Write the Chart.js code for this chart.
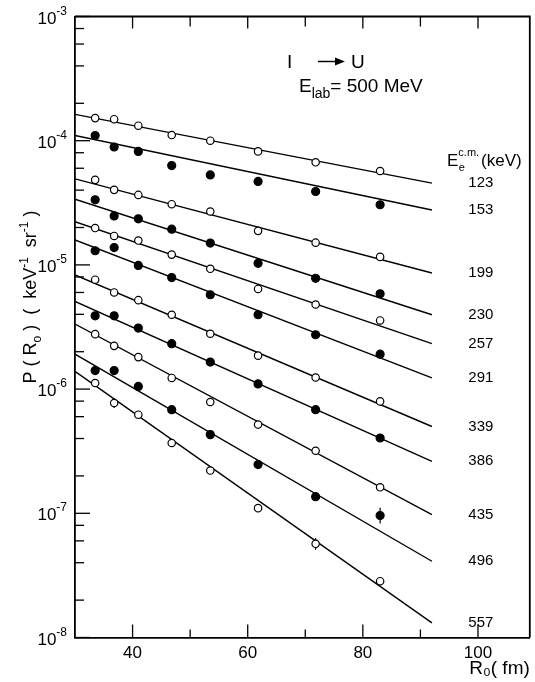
<!DOCTYPE html>
<html><head><meta charset="utf-8">
<script src="https://cdn.jsdelivr.net/npm/chart.js@4.4.1/dist/chart.umd.min.js"></script>
<style>html,body{margin:0;padding:0;background:#fff;}#wrap{width:535px;height:682px;position:relative;}</style>
</head><body><div id="wrap"><canvas id="c" width="535" height="682"></canvas></div>
<script>
// ---- data ----
const R0 = [33.5, 36.8, 41.0, 46.8, 53.5, 61.8, 71.8, 83.0];
const energies = [123, 153, 199, 230, 257, 291, 339, 386, 435, 496, 557];
const fitRange = [30, 92];

const P123 = [1.52e-4, 1.49e-4, 1.32e-4, 1.11e-4, 1.00e-4, 8.2e-5, 6.7e-5, 5.7e-5];
const P153 = [1.10e-4, 8.9e-5, 8.2e-5, 6.3e-5, 5.3e-5, 4.7e-5, 3.9e-5, 3.05e-5];
const P199 = [4.84e-5, 4.02e-5, 3.66e-5, 3.08e-5, 2.69e-5, 1.88e-5, 1.51e-5, 1.16e-5];
const P230 = [3.34e-5, 2.48e-5, 2.35e-5, 1.94e-5, 1.50e-5, 1.03e-5, 7.8e-6, 5.85e-6];
const P257 = [1.98e-5, 1.71e-5, 1.57e-5, 1.21e-5, 9.3e-6, 6.4e-6, 4.8e-6, 3.57e-6];
const P291 = [1.30e-5, 1.38e-5, 9.9e-6, 7.9e-6, 5.75e-6, 3.97e-6, 2.74e-6, 1.91e-6];
const P339 = [7.6e-6, 6.0e-6, 5.2e-6, 3.97e-6, 2.79e-6, 1.86e-6, 1.24e-6, 7.96e-7];
const P386 = [3.89e-6, 3.89e-6, 3.10e-6, 2.32e-6, 1.65e-6, 1.10e-6, 6.83e-7, 4.04e-7];
const P435 = [2.77e-6, 2.23e-6, 1.81e-6, 1.23e-6, 7.87e-7, 5.18e-7, 3.19e-7, 1.62e-7];
const P496 = [1.41e-6, 1.41e-6, 1.05e-6, 6.83e-7, 4.30e-7, 2.47e-7, 1.36e-7, 9.6e-8];
const P557 = [1.12e-6, 7.73e-7, 6.22e-7, 3.68e-7, 2.21e-7, 1.10e-7, 5.68e-8, 2.84e-8];

const F123 = [1.63e-4, 4.55e-5];
const F153 = [1.10e-4, 2.77e-5];
const F199 = [4.93e-5, 8.6e-6];
const F230 = [3.38e-5, 3.97e-6];
const F257 = [2.23e-5, 2.32e-6];
const F291 = [1.59e-5, 1.23e-6];
const F339 = [8.3e-6, 5.0e-7];
const F386 = [5.08e-6, 2.62e-7];
const F435 = [3.34e-6, 9.77e-8];
const F496 = [1.91e-6, 4.11e-8];
const F557 = [1.39e-6, 1.31e-8];

// [series index, point index, low, high]
const errorBars = [[9, 0, 1.31e-6, 1.52e-6], [10, 1, 7.05e-7, 8.48e-7], [10, 6, 5.08e-8, 6.34e-8], [9, 7, 8.26e-8, 1.11e-7]];

const xTicks = [40, 60, 80, 100];
const xTickLabels = ['40', '60', '80', '100'];
const xMinor = [50, 70, 90];
const yTickValues = [1e-8, 1e-7, 1e-6, 1e-5, 1e-4, 1e-3];
const yTickExponents = ['-8', '-7', '-6', '-5', '-4', '-3'];
const yMinorMult = [2, 4, 6, 8];

const seriesValues = [P123, P153, P199, P230, P257, P291, P339, P386, P435, P496, P557];
const fitValues = [F123, F153, F199, F230, F257, F291, F339, F386, F435, F496, F557];

// ---- chart ----
const FONT = "'Liberation Sans', Arial, sans-serif";
const datasets = [];
energies.forEach((e, k) => {
  const filled = k % 2 === 1;
  datasets.push({
    label: 'fit ' + e + ' keV', data: fitRange.map((x, i) => ({x: x, y: fitValues[k][i]})),
    showLine: true, borderColor: '#000', borderWidth: 1.4, pointRadius: 0, fill: false, order: 2
  });
  datasets.push({
    label: e + ' keV', data: R0.map((x, i) => ({x: x, y: seriesValues[k][i]})),
    showLine: false, pointRadius: filled ? 4 : 3.7, pointBackgroundColor: filled ? '#000' : '#fff',
    pointBorderColor: '#000', pointBorderWidth: 1.2, order: 1
  });
});

function seg(ctx, text, x, y, size) {
  ctx.font = size + 'px ' + FONT;
  ctx.fillText(text, x, y);
  return x + ctx.measureText(text).width;
}
function segW(ctx, text, size) {
  ctx.font = size + 'px ' + FONT;
  return ctx.measureText(text).width;
}

const decor = {
  id: 'decor',
  beforeDatasetsDraw(chart) {
    const {ctx, scales: {x, y}} = chart;
    ctx.save();
    ctx.strokeStyle = '#000'; ctx.lineWidth = 1.2;
    errorBars.forEach(([k, i, lo, hi]) => {
      const px = x.getPixelForValue(R0[i]);
      ctx.beginPath();
      ctx.moveTo(px, y.getPixelForValue(lo));
      ctx.lineTo(px, y.getPixelForValue(hi));
      ctx.stroke();
    });
    ctx.restore();
  },
  afterDraw(chart) {
    const {ctx, chartArea: a, scales: {x, y}} = chart;
    ctx.save();
    ctx.strokeStyle = '#000'; ctx.fillStyle = '#000';
    const line = (x1, y1, x2, y2) => { ctx.beginPath(); ctx.moveTo(x1, y1); ctx.lineTo(x2, y2); ctx.stroke(); };
    ctx.lineWidth = 1.8;
    ctx.beginPath(); ctx.moveTo(a.left, a.top); ctx.lineTo(a.right, a.top); ctx.lineTo(a.right, a.bottom); ctx.stroke();
    ctx.lineWidth = 1.3;
    // y ticks (inward)
    for (let e = -8; e < -3; e++) {
      yMinorMult.forEach(m => { const py = y.getPixelForValue(m * Math.pow(10, e)); line(a.left, py, a.left + 9, py); });
    }
    yTickValues.forEach(v => { const py = y.getPixelForValue(v); line(a.left, py, a.left + 15, py); });
    // x ticks bottom and top
    xTicks.forEach(v => { const px = x.getPixelForValue(v); line(px, a.bottom, px, a.bottom - 13); line(px, a.top, px, a.top + 12); });
    xMinor.forEach(v => { const px = x.getPixelForValue(v); line(px, a.bottom, px, a.bottom - 8); line(px, a.top, px, a.top + 10); });

    // y tick labels: 10 with superscript exponent
    ctx.textBaseline = 'alphabetic'; ctx.textAlign = 'left';
    yTickValues.forEach((v, i) => {
      const py = y.getPixelForValue(v);
      const w = segW(ctx, '10', 17) + segW(ctx, yTickExponents[i], 12);
      let tx = a.left - 8 - w;
      tx = seg(ctx, '10', tx, py + 7, 17);
      seg(ctx, yTickExponents[i], tx, py - 2, 12);
    });

    // energy labels
    ctx.textAlign = 'center'; ctx.textBaseline = 'middle';
    ctx.font = '15px ' + FONT;
    energies.forEach((e, k) => {
      ctx.fillText(String(e), x.getPixelForValue(100.5), y.getPixelForValue(fitValues[k][1]));
    });
    // header
    ctx.textAlign = 'left'; ctx.textBaseline = 'alphabetic';
    let hx = 447;
    hx = seg(ctx, 'E', hx, 166, 17);
    seg(ctx, 'e', hx + 0.5, 171, 11);
    hx = seg(ctx, 'c.m.', hx, 156, 11);
    seg(ctx, '(keV)', hx + 2, 166, 17);
    // reaction
    ctx.font = '19px ' + FONT;
    ctx.fillText('I', 287, 68);
    ctx.lineWidth = 1.5;
    line(318, 61.5, 336, 61.5);
    ctx.beginPath(); ctx.moveTo(345, 61.5); ctx.lineTo(335, 57.5); ctx.lineTo(335, 65.5); ctx.closePath(); ctx.fill();
    ctx.fillText('U', 351, 68);
    let ex = 299;
    ex = seg(ctx, 'E', ex, 92, 19);
    ex = seg(ctx, 'lab', ex, 98, 14);
    seg(ctx, '= 500 MeV', ex, 92, 19);
    // y title (rotated)
    ctx.save();
    ctx.translate(30, 297);
    ctx.rotate(-Math.PI / 2);
    const parts = [['P ( R', 18, 0], ['o', 12, 5], [' )  (  keV', 18, 0], ['-1', 12, -8], ['  sr', 18, 0], ['-1', 12, -8], [' )', 18, 0]];
    let total = 0; parts.forEach(p => total += segW(ctx, p[0], p[1]));
    let tx = -total / 2;
    parts.forEach(p => { tx = seg(ctx, p[0], tx, 6 + p[2], p[1]); });
    ctx.restore();
    ctx.restore();
  }
};

new Chart(document.getElementById('c'), {
  type: 'scatter',
  data: {datasets: datasets},
  options: {
    responsive: false, animation: false, devicePixelRatio: 1,
    layout: {padding: {top: 16.5, right: 4, left: 0, bottom: 0}},
    plugins: {legend: {display: false}, tooltip: {enabled: false}},
    scales: {
      x: {
        type: 'linear', min: 30, max: 109, position: 'bottom',
        grid: {display: false, drawTicks: false},
        border: {display: true, color: '#000', width: 1.8},
        ticks: {color: '#000', font: {family: FONT, size: 17}, padding: 6, autoSkip: false, maxRotation: 0,
          callback: (v) => { const i = xTicks.indexOf(v); return i >= 0 ? xTickLabels[i] : ''; }},
        afterBuildTicks: s => { s.ticks = xTicks.map(v => ({value: v})); },
        afterFit: s => { s.height = 44.5; },
        title: {display: true, text: 'R\u2080( fm)', align: 'end', color: '#000', font: {family: FONT, size: 19}, padding: {top: 0, bottom: 2}}
      },
      y: {
        type: 'logarithmic', min: 1e-8, max: 1e-3, position: 'left',
        grid: {display: false, drawTicks: false},
        border: {display: true, color: '#000', width: 1.8},
        ticks: {display: false},
        afterBuildTicks: s => { s.ticks = yTickValues.map(v => ({value: v})); },
        afterFit: s => { s.width = 75; }
      }
    }
  },
  plugins: [decor]
});
</script></body></html>
